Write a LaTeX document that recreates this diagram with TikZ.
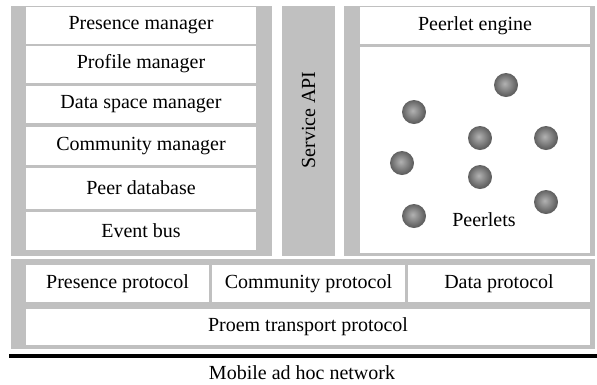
\documentclass[tikz,border=0pt]{standalone}
\usepackage{fontspec}
\setmainfont{Liberation Serif}
\definecolor{pgray}{RGB}{192,192,192}
\pgfdeclareradialshading{peerball}{\pgfpoint{-3bp}{3bp}}{color(0bp)=(black!30); color(22bp)=(black!60); color(42bp)=(black!80); color(50bp)=(black!86)}
\begin{document}
\begin{tikzpicture}[x=1pt,y=-1pt,
  font=\fontsize{20}{22}\selectfont,
  panel/.style={fill=pgray, draw=none, inner sep=0, outer sep=0, anchor=north west},
  wbox/.style={fill=white, draw=none, inner sep=0, outer sep=0, anchor=north west, align=center},
  peer/.style={circle, draw=none, inner sep=0, minimum size=24pt, shading=peerball}]
\useasboundingbox (0,0) rectangle (597,384);
% panels
\node[panel, minimum width=261pt, minimum height=250pt] (left) at (11,6) {};
\node[panel, minimum width=53pt, minimum height=250pt] (api) at (282,6) {};
\node[panel, minimum width=251pt, minimum height=250pt] (right) at (344,6) {};
\node[panel, minimum width=584pt, minimum height=90pt] (bottom) at (11,259) {};
% left boxes
\node[wbox, minimum width=230pt, minimum height=37pt] (pres) at (26,7) {Presence manager};
\node[wbox, minimum width=230pt, minimum height=37pt] (prof) at (26,45.5) {Profile manager};
\node[wbox, minimum width=230pt, minimum height=37pt] (data) at (26,86) {Data space manager};
\node[wbox, minimum width=230pt, minimum height=38pt] (comm) at (26,127) {Community manager};
\node[wbox, minimum width=230pt, minimum height=41pt] (pdb) at (26,167.5) {Peer database};
\node[wbox, minimum width=230pt, minimum height=38.5pt] (evt) at (26,211.5) {Event bus};
% service api
\node[rotate=90] (apitext) at (308.5,120) {Service API};
% right boxes
\node[wbox, minimum width=230pt, minimum height=37pt] (engine) at (360,7) {Peerlet engine};
\node[wbox, minimum width=230pt, minimum height=206pt] (peerlets) at (360,47) {};
\node (plabel) at (484,220) {Peerlets};
\node[peer] (p1) at (506,85) {};
\node[peer] (p2) at (414,112) {};
\node[peer] (p3) at (480,138) {};
\node[peer] (p4) at (546,138) {};
\node[peer] (p5) at (402,163) {};
\node[peer] (p6) at (480,177) {};
\node[peer] (p7) at (546,202) {};
\node[peer] (p8) at (414,216) {};
% protocols
\node[wbox, minimum width=183pt, minimum height=36.5pt] (presp) at (26,265) {Presence protocol};
\node[wbox, minimum width=193pt, minimum height=36.5pt] (commp) at (212,265) {Community protocol};
\node[wbox, minimum width=182pt, minimum height=36.5pt] (datap) at (408,265) {Data protocol};
\node[wbox, minimum width=564pt, minimum height=36pt] (proem) at (26,309) {Proem transport protocol};
% network line
\coordinate (netl) at (9,356);
\coordinate (netr) at (597,356);
\draw[line width=4pt] (netl) -- (netr);
\node (mobile) at (302,373) {Mobile ad hoc network};
\end{tikzpicture}
\end{document}
